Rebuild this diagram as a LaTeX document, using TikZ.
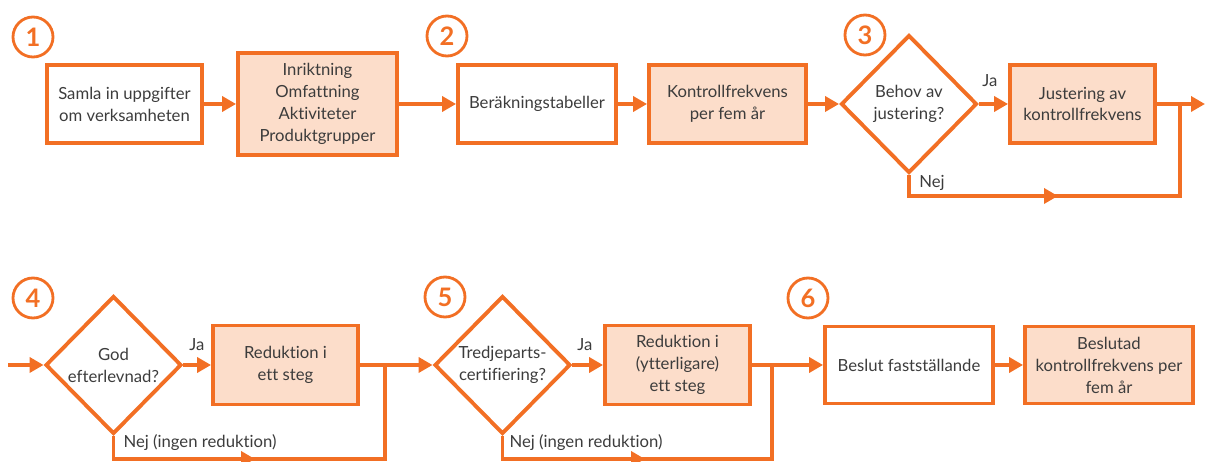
\documentclass[tikz,border=0pt]{standalone}
\usepackage{fontspec}
\setmainfont{Lato}[Ligatures={NoCommon}]
\usetikzlibrary{arrows.meta,shapes.geometric}
\definecolor{orangeline}{HTML}{F26F24}
\definecolor{orangefill}{HTML}{FCDDCA}
\definecolor{textgray}{HTML}{3C3C3C}

\begin{document}
\begin{tikzpicture}[x=0.02cm, y=-0.02cm,
  flow/.style={line width=2.2pt, draw=orangeline},
  box/.style={rectangle, flow, text=textgray, align=center,
    font=\fontsize{9.5}{12.5}\selectfont, minimum height=1.56cm, inner sep=2pt},
  hbox/.style={box, fill=orangefill},
  ask/.style={diamond, flow, text=textgray, align=center,
    font=\fontsize{9.5}{12.5}\selectfont, minimum width=2.72cm, minimum height=2.76cm, inner sep=0pt},
  num/.style={circle, draw=orangeline, line width=1.6pt, text=orangeline,
    minimum size=0.8cm, inner sep=0pt, font=\fontsize{14.5}{14.5}\selectfont\bfseries},
  go/.style={flow, -{Triangle[length=0.28cm,width=0.3cm]}},
  lbl/.style={text=textgray, font=\fontsize{9.5}{12.5}\selectfont, inner sep=0pt}]

\useasboundingbox (0,0) rectangle (1205,462);

\node[num] (n1) at (33,37) {1};
\node[box, minimum width=3.1cm] (samla) at (124.5,104) {Samla in uppgifter\\om verksamheten};
\node[hbox, minimum width=3.18cm, minimum height=2.04cm] (inrikt) at (317.5,104)
  {Inriktning\\Omfattning\\Aktiviteter\\Produktgrupper};
\node[num] (n2) at (447,36) {2};
\node[box, minimum width=3.16cm] (berak) at (537,104) {Beräkningstabeller};
\node[hbox, minimum width=3.14cm] (kfrek) at (727.5,104) {Kontrollfrekvens\\per fem år};
\node[num] (n3) at (865,35) {3};
\node[ask] (behov) at (909,104) {Behov av\\justering?};
\node[hbox, minimum width=2.9cm] (just) at (1082.5,104) {Justering av\\kontrollfrekvens};
\coordinate (j1) at (1180,104);
\coordinate (ut1) at (1205,104);
\coordinate (nej1) at (1058,196);

\draw[go] (samla) -- (inrikt);
\draw[go] (inrikt) -- (berak);
\draw[go] (berak) -- (kfrek);
\draw[go] (kfrek) -- (behov);
\draw[go] (behov) -- (just);
\draw[go] (just) -- (ut1);
\draw[flow] (behov.south) |- (nej1) -| (j1);
\draw[go] (behov.south) |- (nej1);
\node[lbl] (ja1) at (990,81) {Ja};
\node[lbl] (nejl1) at (932,183) {Nej};

\coordinate (in2) at (8,365);
\node[num] (n4) at (33,298) {4};
\node[ask] (efterl) at (113.5,365) {God\\efterlevnad?};
\node[hbox, minimum width=2.9cm, minimum height=1.58cm] (red1) at (285.5,365) {Reduktion i\\ett steg};
\coordinate (j2) at (385,365);
\coordinate (nej2) at (255,459);
\node[num] (n5) at (445,297) {5};
\node[ask] (tredje) at (502.5,365) {Tredjeparts-\\certifiering?};
\node[hbox, minimum width=2.9cm, minimum height=1.58cm] (red2) at (677.5,365)
  {Reduktion i\\(ytterligare)\\ett steg};
\coordinate (j3) at (772,365);
\coordinate (nej3) at (645,459);
\node[num] (n6) at (808,298) {6};
\node[box, minimum width=3.36cm, minimum height=1.54cm] (beslut) at (909,365) {Beslut fastställande};
\node[hbox, minimum width=3.36cm, minimum height=1.54cm] (beslkf) at (1109,365)
  {Beslutad\\kontrollfrekvens per\\fem år};

\draw[go] (in2) -- (efterl);
\draw[go] (efterl) -- (red1);
\draw[go] (red1) -- (tredje);
\draw[flow] (efterl.south) |- (nej2) -| (j2);
\draw[go] (efterl.south) |- (nej2);
\draw[go] (tredje) -- (red2);
\draw[go] (red2) -- (beslut);
\draw[flow] (tredje.south) |- (nej3) -| (j3);
\draw[go] (tredje.south) |- (nej3);
\draw[go] (beslut) -- (beslkf);
\node[lbl] (ja2) at (197,345) {Ja};
\node[lbl] (ja3) at (585,345) {Ja};
\node[lbl] (nejl2) at (200,443) {Nej (ingen reduktion)};
\node[lbl] (nejl3) at (586,443) {Nej (ingen reduktion)};

\end{tikzpicture}
\end{document}
